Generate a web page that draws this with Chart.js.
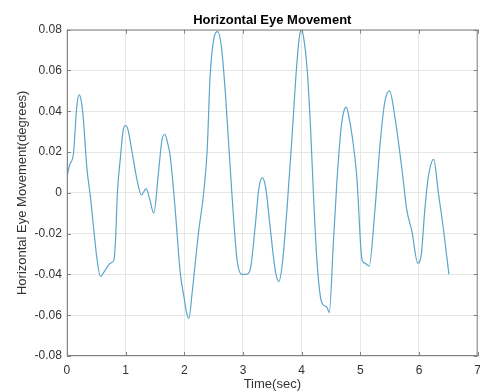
<!DOCTYPE html>
<html>
<head>
<meta charset="utf-8">
<script src="https://cdn.jsdelivr.net/npm/chart.js@4"></script>
<style>
  html, body { margin: 0; padding: 0; background: #fff; overflow: hidden; }
  #wrap { width: 480px; height: 392px; overflow: hidden; }
  #wrap div { width: 488px; height: 392px; }
</style>
</head>
<body>
<div id="wrap"><div><canvas id="eye-chart"></canvas></div></div>
<script>
//Data
const times = [0, 0.05, 0.11, 0.17, 0.21, 0.25, 0.28, 0.34, 0.40, 0.45, 0.51, 0.57, 0.65, 0.74, 0.80, 0.83,
  0.86, 0.91, 0.96, 1.00, 1.04, 1.11, 1.19, 1.27, 1.35, 1.41, 1.48, 1.56, 1.62, 1.67, 1.71, 1.76, 1.85,
  1.93, 2.00, 2.04, 2.08, 2.13, 2.24, 2.33, 2.39, 2.44, 2.50, 2.57, 2.63, 2.70, 2.81, 2.90, 2.98, 3.05,
  3.12, 3.21, 3.27, 3.33, 3.39, 3.46, 3.55, 3.61, 3.67, 3.75, 3.83, 3.92, 3.97, 4.00, 4.04, 4.09, 4.15,
  4.20, 4.26, 4.32, 4.37, 4.43, 4.47, 4.54, 4.60, 4.67, 4.72, 4.76, 4.80, 4.86, 4.94, 5.03, 5.08, 5.15,
  5.25, 5.34, 5.42, 5.50, 5.59, 5.71, 5.79, 5.88, 5.98, 6.04, 6.10, 6.16, 6.25, 6.33, 6.41, 6.51];

const movement = [0.008, 0.014, 0.019, 0.043, 0.048, 0.044, 0.036, 0.012, -0.002, -0.016, -0.032, -0.041,
  -0.038, -0.0345, -0.033, -0.022, 0.0, 0.017, 0.031, 0.033, 0.031, 0.020, 0.007, -0.001, 0.002, -0.003,
  -0.010, 0.010, 0.026, 0.0287, 0.025, 0.018, -0.010, -0.039, -0.052, -0.059, -0.0615, -0.050, -0.020,
  0.0, 0.021, 0.057, 0.075, 0.079, 0.072, 0.049, 0.0, -0.033, -0.040, -0.040, -0.038, -0.016, 0.002,
  0.0074, 0.002, -0.016, -0.038, -0.0435, -0.035, -0.008, 0.025, 0.064, 0.078, 0.0796, 0.075, 0.062,
  0.033, 0.0, -0.033, -0.051, -0.055, -0.056, -0.0587, -0.025, 0.005, 0.031, 0.040, 0.042, 0.038, 0.028,
  0.008, -0.033, -0.0345, -0.036, -0.008, 0.025, 0.045, 0.050, 0.037, 0.0115, -0.008, -0.019, -0.0345,
  -0.030, -0.008, 0.008, 0.0164, 0.0, -0.0164, -0.040];

const xTicks = [0, 1, 2, 3, 4, 5, 6, 7];
const yTicks = [-0.08, -0.06, -0.04, -0.02, 0, 0.02, 0.04, 0.06, 0.08];

const points = times.map((t, i) => ({ x: t, y: movement[i] }));

//box round the plot with inward ticks, like matlab
const boxPlugin = {
  id: 'box',
  afterDraw(chart) {
    const { ctx, chartArea: a, scales } = chart;
    ctx.save();
    ctx.strokeStyle = '#808080';
    ctx.lineWidth = 1;
    ctx.strokeRect(a.left + 0.5, a.top + 0.5, a.right - a.left - 1, a.bottom - a.top - 1);
    ctx.beginPath();
    xTicks.forEach(v => {
      const px = Math.round(scales.x.getPixelForValue(v)) + 0.5;
      ctx.moveTo(px, a.bottom); ctx.lineTo(px, a.bottom - 4);
      ctx.moveTo(px, a.top); ctx.lineTo(px, a.top + 4);
    });
    yTicks.forEach(v => {
      const py = Math.round(scales.y.getPixelForValue(v)) + 0.5;
      ctx.moveTo(a.left, py); ctx.lineTo(a.left + 4, py);
      ctx.moveTo(a.right, py); ctx.lineTo(a.right - 4, py);
    });
    ctx.stroke();
    ctx.restore();
  }
};

const font = 'Liberation Sans, Arial, sans-serif';

new Chart(document.getElementById('eye-chart'), {
  type: 'line',
  data: {
    datasets: [{
      data: points,
      borderColor: '#5aa5c8',
      borderWidth: 1.2,
      pointRadius: 0,
      tension: 0.4,
      cubicInterpolationMode: 'monotone',
      fill: false
    }]
  },
  options: {
    responsive: true,
    maintainAspectRatio: false,
    animation: false,
    layout: { padding: { left: 15, right: 0, top: 4, bottom: 0 } },
    plugins: {
      legend: { display: false },
      tooltip: { enabled: false },
      title: {
        display: true,
        text: 'Horizontal Eye Movement',
        fullSize: false,
        color: '#000',
        font: { family: font, size: 13, weight: 'bold' },
        padding: { top: 9, bottom: 1 }
      }
    },
    scales: {
      x: {
        type: 'linear',
        min: 0,
        max: 7,
        afterBuildTicks: s => { s.ticks = xTicks.map(v => ({ value: v })); },
        grid: { color: '#e6e6e6', drawTicks: false },
        border: { display: false },
        ticks: { color: '#333', font: { family: font, size: 12 }, padding: 7, maxRotation: 0 },
        title: { display: true, text: 'Time(sec)', color: '#333', font: { family: font, size: 13 }, padding: { top: -8, bottom: 0 } }
      },
      y: {
        min: -0.08,
        max: 0.08,
        afterBuildTicks: s => { s.ticks = yTicks.map(v => ({ value: v })); },
        grid: { color: '#e6e6e6', drawTicks: false },
        border: { display: false },
        ticks: {
          color: '#333',
          font: { family: font, size: 12 },
          padding: 5,
          callback: v => Math.abs(v) < 1e-9 ? '0' : v.toFixed(2)
        },
        title: { display: true, text: 'Horizontal Eye Movement(degrees)', color: '#333', font: { family: font, size: 13 }, padding: { top: 0, bottom: -1 } }
      }
    }
  },
  plugins: [boxPlugin]
});
</script>
</body>
</html>
